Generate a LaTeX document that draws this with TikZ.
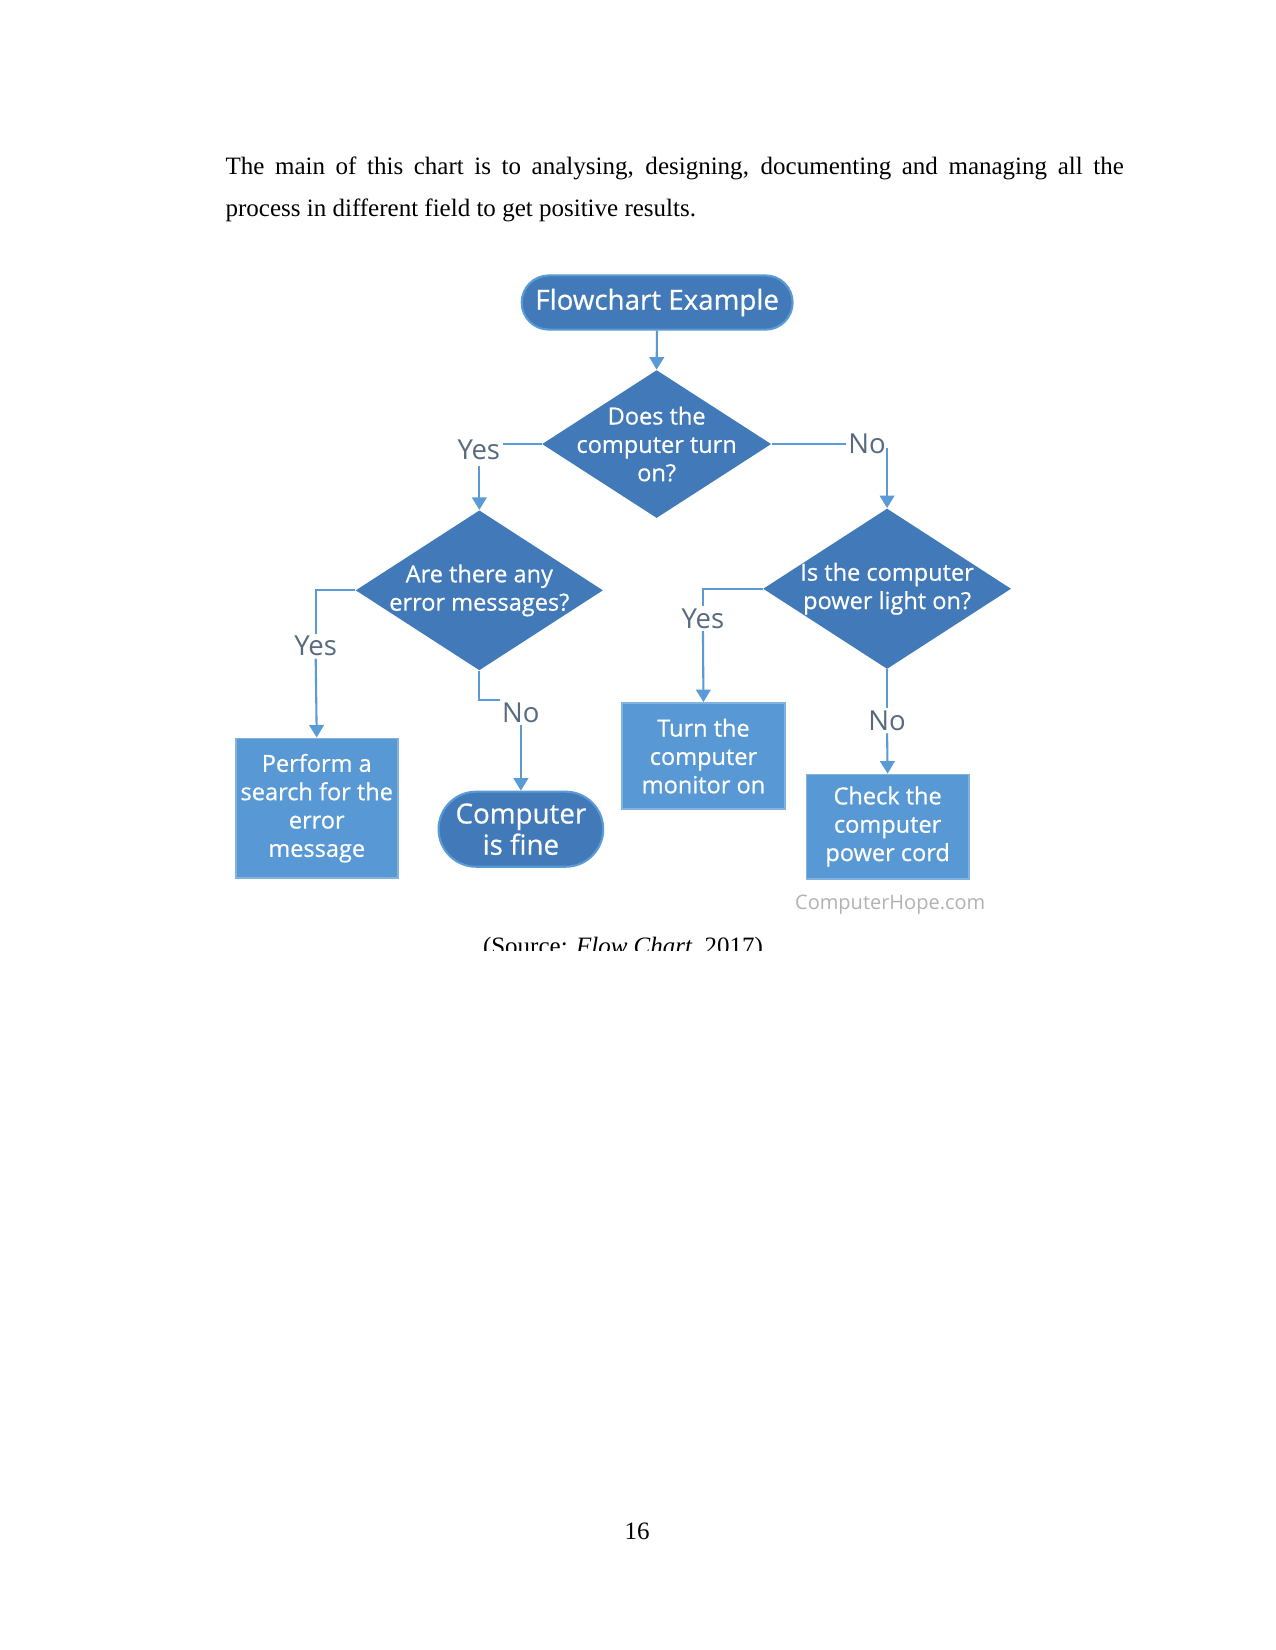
\documentclass[tikz,border=0pt]{standalone}
\usepackage{fontspec}
\setmainfont{Liberation Serif}
\newfontfamily\chartfont[FakeBold=0.6]{Open Sans}
\newfontfamily\hopefont{Open Sans}
\usetikzlibrary{shapes.geometric,shapes.misc,arrows.meta}
\definecolor{diaBlue}{RGB}{66,122,185}
\definecolor{boxBlue}{RGB}{88,152,212}
\definecolor{lineBlue}{RGB}{91,155,213}
\definecolor{lblGrey}{RGB}{88,106,128}
\definecolor{hopeGrey}{RGB}{178,178,178}
\tikzset{
  dia/.style={diamond, fill=diaBlue, draw=none, inner sep=0pt, aspect=1.5},
  dtext/.style={text=white, font=\chartfont\fontsize{11.3}{13.6}\selectfont, align=center, inner sep=0pt},
  procbox/.style={rectangle, fill=boxBlue, draw=boxBlue!75!white, line width=0.8pt, text=white,
    font=\chartfont\fontsize{11.3}{13.6}\selectfont, align=center, inner sep=0pt},
  termnode/.style={rounded rectangle, fill=diaBlue, draw=lineBlue, line width=1pt, text=white,
    align=center, inner sep=0pt},
  lbl/.style={text=lblGrey, font=\hopefont\fontsize{13.2}{15}\selectfont, inner sep=1pt},
  conn/.style={draw=lineBlue, line width=1pt},
  arr/.style={conn, -{Triangle[width=7pt,length=6pt]}},
  bodytext/.style={font=\fontsize{12}{14}\selectfont, inner sep=0pt}
}
\begin{document}
\begin{tikzpicture}[x=0.50495pt,y=-0.50495pt]
\useasboundingbox (0,0) rectangle (1212,1568);
\fill[white] (0,0) rectangle (1212,1568);

% body text
\node[bodytext, anchor=base west] (p1) at (214,166)
  {\makebox[431pt][s]{The main of this chart is to analysing, designing, documenting and managing all the}};
\node[bodytext, anchor=base west] (p2) at (214,206)
  {process in different field to get positive results.};

% flowchart nodes
\node[termnode, minimum width=130pt, minimum height=26pt,
  font=\chartfont\fontsize{13.3}{15}\selectfont] (start) at (624.5,287.5) {Flowchart Example};

\node[dia, minimum width=110pt, minimum height=71pt,
  label={[dtext]center:{Does the\\computer turn\\on?}}] (d1) at (624,422) {};

\node[dia, minimum width=118.7pt, minimum height=76.8pt,
  label={[dtext]center:{Are there any\\error messages?}}] (d2) at (455.5,561) {};

\node[dia, minimum width=119pt, minimum height=77pt,
  label={[dtext]center:{Is the computer\\power light on?}}] (d3) at (843,559.5) {};

\node[procbox, minimum width=77.8pt, minimum height=67pt] (b1) at (301,768)
  {Perform a\\search for the\\error\\message};
\node[procbox, minimum width=78pt, minimum height=51pt] (b2) at (668.5,718.5)
  {Turn the\\computer\\monitor on};
\node[procbox, minimum width=78pt, minimum height=50pt] (b3) at (843.5,785.5)
  {Check the\\computer\\power cord};
\node[termnode, minimum width=79pt, minimum height=36pt,
  font=\chartfont\fontsize{13.3}{15}\selectfont] (fine) at (495,788) {Computer\\is fine};

% labels
\node[lbl] (y1) at (455,427) {Yes};
\node[lbl] (n1) at (824,422) {No};
\node[lbl] (y2) at (300,614) {Yes};
\node[lbl] (n2) at (495,677) {No};
\node[lbl] (y3) at (668,588) {Yes};
\node[lbl] (n3) at (843,685) {No};

% connectors
\draw[arr] (start) -- (d1.north);
\draw[conn] (d1.west) -- (y1.east |- d1.west);
\draw[arr] (y1.south -| d2.north) ++(0,4) -- (d2.north);
\draw[conn] (d1.east) -- (n1.west |- d1.east);
\draw[arr] (d3.north |- n1.east) ++(0,4) -- (d3.north);

\draw[conn] (d2.west) -| (y2.north);
\draw[arr] (y2.south) -- (b1.north);
\draw[conn] (d2.south) |- (n2.north west);
\draw[arr] (n2.south) -- (fine.north);

\draw[conn] (d3.west) -| (y3.north);
\draw[arr] (y3.south) -- (b2.north);
\draw[conn] (d3.south) -- (n3.north);
\draw[arr] (n3.south) -- (b3.north);

\node[text=hopeGrey, font=\hopefont\fontsize{9.6}{11}\selectfont, inner sep=0pt] (hope) at (846,860) {ComputerHope.com};

% clipped caption
\begin{scope}
  \clip (300,860) rectangle (900,903);
  \node[bodytext, anchor=base] (cap) at (592,907) {(Source: \textit{Flow Chart}, 2017)};
\end{scope}

% page number
\node[bodytext, anchor=base] (pg) at (605.5,1463) {16};
\end{tikzpicture}
\end{document}
